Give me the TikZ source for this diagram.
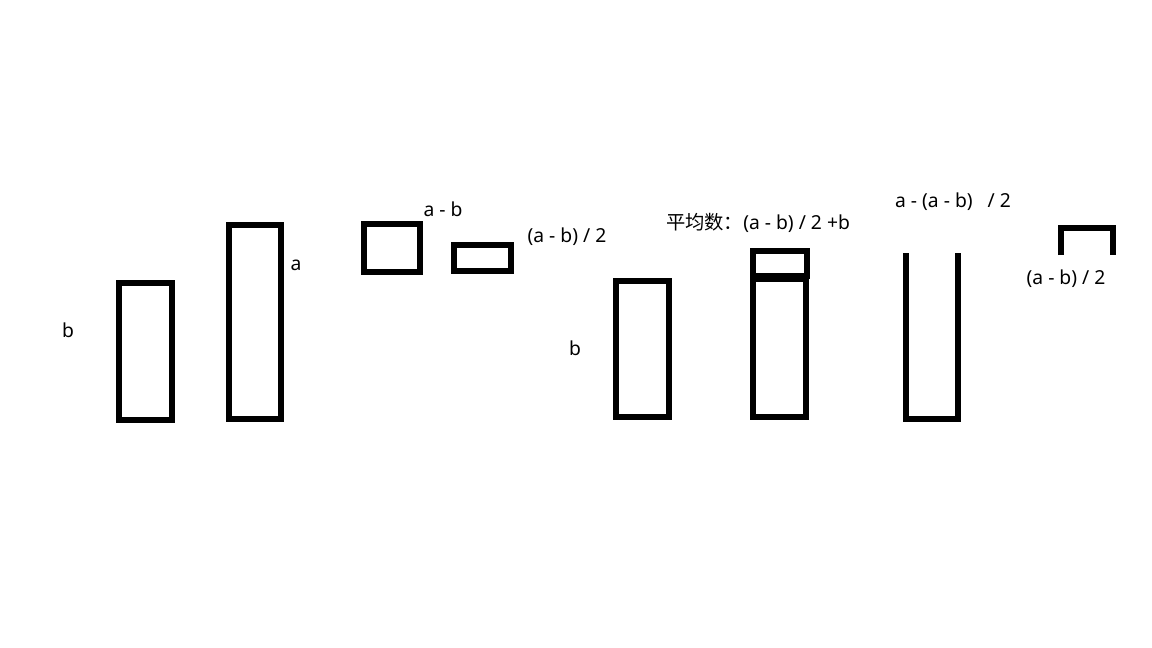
\documentclass[tikz,border=0pt]{standalone}
\usepackage{fontspec}
\setmainfont{Noto Sans}
\newfontfamily\cjk{Noto Sans CJK SC}
\usepackage{tikz}

\begin{document}
\begin{tikzpicture}[x=1pt, y=-1pt, bar/.style={line width=5.4pt}, lbl/.style={font=\fontsize{19.3}{22}\selectfont}]

  \fill[white] (0, 0) rectangle (1152, 648);
  \useasboundingbox (0, 0) rectangle (1152, 648);

  % b and a
  \draw[bar] (119, 283) rectangle (172, 420);
  \draw[bar] (229, 225) rectangle (281, 419);
  \node[lbl] (lb) at (68, 330) {b};
  \node[lbl] (la) at (296, 265) {a};

  % a - b, half of it
  \draw[bar] (364, 224) rectangle (420, 272);
  \draw[bar] (454, 245) rectangle (511, 271);
  \node[lbl] (ldiff) at (443, 209) {a - b};
  \node[lbl] (lhalf) at (567, 237) {(a - b) / 2};

  % b plus the half
  \draw[bar] (616, 281) rectangle (669, 417);
  \node[lbl] (lb2) at (575, 348) {b};
  \draw[bar] (753, 251) rectangle (807, 276);
  \draw[bar] (753, 279) rectangle (806, 417);
  \node[lbl] (lmean) at (758, 223) {{\cjk 平均数：}(a - b) / 2 +b};

  % a minus the half
  \draw[bar] (906, 253) -- (906, 419) -- (958, 419) -- (958, 253);
  \node[lbl] (lrest) at (953, 202) {a - (a - b)\ \ \ / 2};
  \draw[bar] (1061, 255) -- (1061, 228) -- (1113, 228) -- (1113, 255);
  \node[lbl] (lhalf2) at (1066, 279) {(a - b) / 2};

\end{tikzpicture}
\end{document}
